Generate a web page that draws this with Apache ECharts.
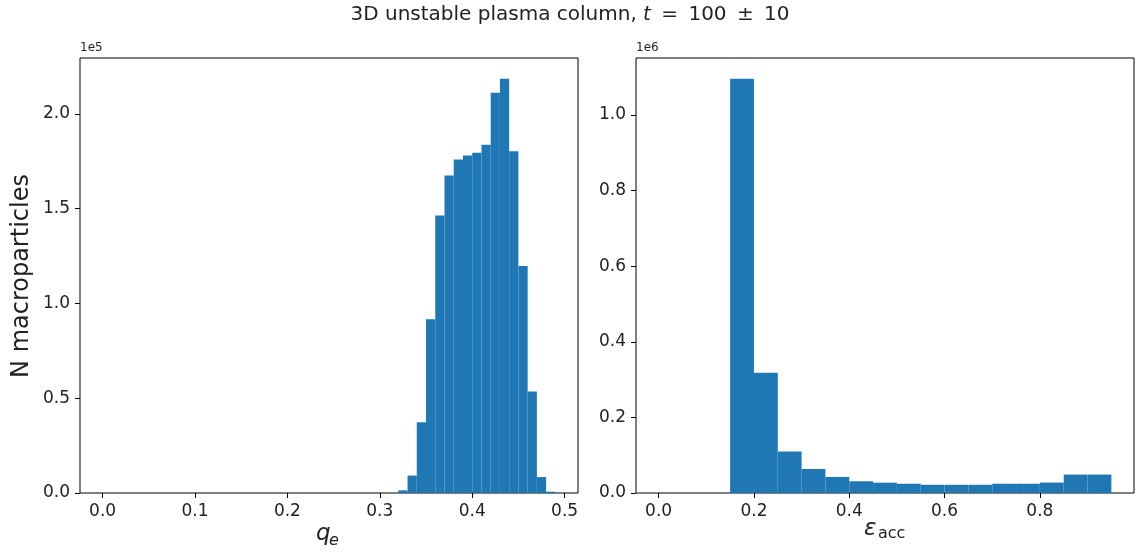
<!DOCTYPE html>
<html>
<head>
<meta charset="utf-8">
<script src="https://cdn.jsdelivr.net/npm/echarts@6/dist/echarts.min.js"></script>
<style>
  html, body { margin: 0; padding: 0; background: #fff; }
  #chart { width: 1140px; height: 556px; }
</style>
</head>
<body>
<div id="chart"></div>
<script>
// Left histogram: charge q_e, bins of width 0.01 (lower edges)
const qeBinStart = [0.32, 0.33, 0.34, 0.35, 0.36, 0.37, 0.38, 0.39, 0.40,
                    0.41, 0.42, 0.43, 0.44, 0.45, 0.46, 0.47, 0.48];
const qeBinWidth = 0.01;
const qeCounts = [1400, 9200, 37300, 91600, 146400, 167500, 175900, 178000, 179400,
                  183700, 211100, 218500, 180300, 119700, 53500, 8400, 700];
const qeTicks = [0.0, 0.1, 0.2, 0.3, 0.4, 0.5];
const qeYTicks = [0, 50000, 100000, 150000, 200000];

// Right histogram: acceleration efficiency, bins of width 0.05 (lower edges)
const epsBinStart = [0.15, 0.20, 0.25, 0.30, 0.35, 0.40, 0.45, 0.50,
                     0.55, 0.60, 0.65, 0.70, 0.75, 0.80, 0.85, 0.90];
const epsBinWidth = 0.05;
const epsCounts = [1096000, 318000, 110000, 63500, 42500, 31000, 27300, 24500,
                   21700, 21700, 21700, 24500, 24500, 27500, 48700, 48700];
const epsTicks = [0.0, 0.2, 0.4, 0.6, 0.8];
const epsYTicks = [0, 200000, 400000, 600000, 800000, 1000000];

const FONT = 'DejaVu Sans';
const BAR = '#1f77b4';

function bins(starts, width, counts) {
  return starts.map((s, i) => [s, s + width, counts[i]]);
}

function renderBar(params, api) {
  const p0 = api.coord([api.value(0), 0]);
  const p1 = api.coord([api.value(1), api.value(2)]);
  return {
    type: 'rect',
    shape: { x: p0[0], y: p1[1], width: p1[0] - p0[0], height: p0[1] - p1[1] },
    style: { fill: BAR }
  };
}

function xAxisCfg(idx, min, max, ticks) {
  return {
    gridIndex: idx, type: 'value', min: min, max: max,
    axisLine: { show: false, onZero: false },
    splitLine: { show: false },
    axisTick: { show: true, inside: false, length: 5, customValues: ticks,
                lineStyle: { color: '#000', width: 1 } },
    axisLabel: { show: true, margin: 10, customValues: ticks,
                 formatter: v => v.toFixed(1),
                 fontFamily: FONT, fontSize: 17, color: '#222' }
  };
}

function yAxisCfg(idx, max, ticks, scale) {
  return {
    gridIndex: idx, type: 'value', min: 0, max: max,
    axisLine: { show: false, onZero: false },
    splitLine: { show: false },
    axisTick: { show: true, inside: false, length: 5, customValues: ticks,
                lineStyle: { color: '#000', width: 1 } },
    axisLabel: { show: true, margin: 10, customValues: ticks,
                 formatter: v => (v / scale).toFixed(1),
                 fontFamily: FONT, fontSize: 17, color: '#222' }
  };
}

const qeMax = Math.max(...qeCounts) * 1.05;
const epsMax = Math.max(...epsCounts) * 1.05;
// x ranges padded by 5% of the full binned range (0 .. last edge)
const qeLast = qeBinStart[qeBinStart.length - 1] + qeBinWidth;
const epsLast = epsBinStart[epsBinStart.length - 1] + epsBinWidth;

const chart = echarts.init(document.getElementById('chart'), null, { renderer: 'canvas' });

chart.setOption({
  backgroundColor: '#fff',
  animation: false,
  grid: [
    { left: 80, top: 58, width: 498, height: 435, show: true,
      borderColor: '#000', borderWidth: 1, backgroundColor: 'transparent' },
    { left: 636, top: 58, width: 498, height: 435, show: true,
      borderColor: '#000', borderWidth: 1, backgroundColor: 'transparent' }
  ],
  xAxis: [
    xAxisCfg(0, -0.05 * qeLast, 1.05 * qeLast, qeTicks),
    xAxisCfg(1, -0.05 * epsLast, 1.05 * epsLast, epsTicks)
  ],
  yAxis: [
    yAxisCfg(0, qeMax, qeYTicks, 1e5),
    yAxisCfg(1, epsMax, epsYTicks, 1e6)
  ],
  series: [
    { type: 'custom', xAxisIndex: 0, yAxisIndex: 0, renderItem: renderBar,
      encode: { x: [0, 1], y: 2 }, data: bins(qeBinStart, qeBinWidth, qeCounts), z: 1 },
    { type: 'custom', xAxisIndex: 1, yAxisIndex: 1, renderItem: renderBar,
      encode: { x: [0, 1], y: 2 }, data: bins(epsBinStart, epsBinWidth, epsCounts), z: 1 }
  ],
  graphic: [
    // figure title
    { type: 'text', left: 'center', top: 5,
      style: {
        text: '{n|3D unstable plasma column, }{i|t}{n|\u2009 =\u2009 100\u2009 ±\u2009 10}',
        rich: {
          n: { fontFamily: FONT, fontSize: 20, fill: '#222' },
          i: { fontFamily: FONT, fontSize: 20, fontStyle: 'italic', fill: '#222' }
        }
      } },
    // axis scale offsets
    { type: 'text', x: 80, y: 48,
      style: { text: '1e5', fontFamily: FONT, fontSize: 12, fill: '#222', verticalAlign: 'middle' } },
    { type: 'text', x: 636, y: 48,
      style: { text: '1e6', fontFamily: FONT, fontSize: 12, fill: '#222', verticalAlign: 'middle' } },
    // y axis title
    { type: 'text', x: 22, y: 276, rotation: Math.PI / 2,
      style: { text: 'N macroparticles', fontFamily: FONT, fontSize: 24, fill: '#222',
               align: 'center', verticalAlign: 'middle' } },
    // left x axis title: q_e
    { type: 'text', x: 316, y: 534,
      style: { text: 'q', fontFamily: FONT, fontSize: 23, fontStyle: 'italic', fill: '#222',
               align: 'left', verticalAlign: 'middle' } },
    { type: 'text', x: 329, y: 541,
      style: { text: 'e', fontFamily: FONT, fontSize: 16, fontStyle: 'italic', fill: '#222',
               align: 'left', verticalAlign: 'middle' } },
    // right x axis title: epsilon_acc
    { type: 'text', x: 864, y: 529,
      style: { text: 'ε', fontFamily: FONT, fontSize: 23, fontStyle: 'italic', fill: '#222',
               align: 'left', verticalAlign: 'middle' } },
    { type: 'text', x: 878, y: 534,
      style: { text: 'acc', fontFamily: FONT, fontSize: 16, fill: '#222',
               align: 'left', verticalAlign: 'middle' } }
  ]
});
</script>
</body>
</html>
